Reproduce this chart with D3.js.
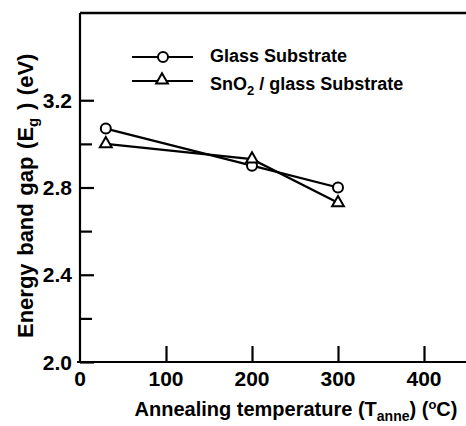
<!DOCTYPE html>
<html>
<head>
<meta charset="utf-8">
<script src="https://cdn.jsdelivr.net/npm/d3@7"></script>
<style>
  body { margin: 0; background: #fff; }
  text { font-family: "Liberation Sans", Arial, sans-serif; font-weight: bold; fill: #000; }
</style>
</head>
<body>
<div id="chart"></div>
<script>
// data
var temps = [30, 200, 300];
var glass = [3.07, 2.90, 2.80];
var sno2 = [3.00, 2.93, 2.73];
var xTicks = [0, 100, 200, 300, 400];
var yMajor = [2.0, 2.4, 2.8, 3.2];
var yMinor = [2.2, 2.6, 3.0];
var seriesNames = ["Glass Substrate", "SnO2 / glass Substrate"];

var width = 466, height = 426;
var plotLeft = 80, plotTop = 13, plotBottom = 362;

var svg = d3.select("#chart").append("svg")
  .attr("width", width)
  .attr("height", height);

var x = d3.scaleLinear().domain([0, 450]).range([plotLeft, plotLeft + 387]);
var y = d3.scaleLinear().domain([2.0, 3.6]).range([plotBottom, plotTop]);

// frame: top border, left and bottom axes
svg.append("line").attr("x1", plotLeft).attr("x2", width).attr("y1", plotTop).attr("y2", plotTop)
  .attr("stroke", "#000").attr("stroke-width", 2.5);

// y axis
var yAxis = svg.append("g")
  .attr("transform", "translate(" + plotLeft + ",0)")
  .call(d3.axisRight(y).tickValues(yMajor).tickSize(14).tickFormat(""));
yAxis.select(".domain").attr("d", "M0," + plotTop + "V" + plotBottom);
svg.append("g")
  .attr("transform", "translate(" + plotLeft + ",0)")
  .call(d3.axisRight(y).tickValues(yMinor).tickSize(12).tickFormat(""))
  .select(".domain").remove();

svg.selectAll(".ylab").data(yMajor).enter().append("text")
  .attr("class", "ylab")
  .attr("x", plotLeft - 8)
  .attr("y", d => y(d))
  .attr("dy", "0.36em")
  .attr("text-anchor", "end")
  .style("font-size", "21px")
  .text(d => d.toFixed(1));

// x axis
var xAxis = svg.append("g")
  .attr("transform", "translate(0," + plotBottom + ")")
  .call(d3.axisTop(x).tickValues(xTicks.slice(1)).tickSize(16).tickFormat(""));
xAxis.select(".domain").attr("d", "M" + (plotLeft - 3) + ",0H" + width);

svg.selectAll(".xlab").data(xTicks).enter().append("text")
  .attr("class", "xlab")
  .attr("x", d => x(d))
  .attr("y", plotBottom + 24)
  .attr("text-anchor", "middle")
  .style("font-size", "21px")
  .text(d => d);

svg.selectAll("g .tick line, g .domain").attr("stroke", "#000").attr("stroke-width", 2.2);

// axis titles
var xt = svg.append("text")
  .attr("x", 296)
  .attr("y", 416)
  .attr("text-anchor", "middle")
  .style("font-size", "20px");
xt.append("tspan").text("Annealing temperature (T");
xt.append("tspan").attr("dy", 5).style("font-size", "14px").text("anne");
xt.append("tspan").attr("dy", -5).text(") (");
xt.append("tspan").attr("dy", -7).style("font-size", "13px").text("o");
xt.append("tspan").attr("dy", 7).text("C)");

var yt = svg.append("text")
  .attr("transform", "translate(33,338) rotate(-90)")
  .attr("text-anchor", "start")
  .style("font-size", "22px")
  .style("word-spacing", "1.5px");
yt.append("tspan").text("Energy band gap (E");
yt.append("tspan").attr("dy", 5).style("font-size", "15px").text("g");
yt.append("tspan").attr("dy", -5).text(" ) (eV)");

// series
var line = d3.line().x(d => x(d[0])).y(d => y(d[1]));
var glassPts = d3.zip(temps, glass);
var sno2Pts = d3.zip(temps, sno2);

svg.append("path").datum(glassPts).attr("d", line)
  .attr("fill", "none").attr("stroke", "#000").attr("stroke-width", 2.2);
svg.append("path").datum(sno2Pts).attr("d", line)
  .attr("fill", "none").attr("stroke", "#000").attr("stroke-width", 2.2);

var tri = d3.symbol().type(d3.symbolTriangle).size(60);

svg.selectAll(".circ").data(glassPts).enter().append("circle")
  .attr("cx", d => x(d[0])).attr("cy", d => y(d[1])).attr("r", 5)
  .attr("fill", "#fff").attr("stroke", "#000").attr("stroke-width", 2);

svg.selectAll(".tri").data(sno2Pts).enter().append("path")
  .attr("d", tri)
  .attr("transform", d => "translate(" + x(d[0]) + "," + y(d[1]) + ")")
  .attr("fill", "#fff").attr("stroke", "#000").attr("stroke-width", 2);

// legend
var leg = svg.append("g");
var rows = [57, 81];
rows.forEach(function(ry, i) {
  leg.append("line").attr("x1", 132).attr("x2", 193).attr("y1", ry).attr("y2", ry)
    .attr("stroke", "#000").attr("stroke-width", 2.2);
  if (i === 0) {
    leg.append("circle").attr("cx", 163).attr("cy", ry).attr("r", 5)
      .attr("fill", "#fff").attr("stroke", "#000").attr("stroke-width", 2);
  } else {
    leg.append("path").attr("d", tri).attr("transform", "translate(162," + (ry - 1) + ")")
      .attr("fill", "#fff").attr("stroke", "#000").attr("stroke-width", 2);
  }
});
leg.append("text").attr("x", 210).attr("y", 62).style("font-size", "18px").text(seriesNames[0]);
var l2 = leg.append("text").attr("x", 210).attr("y", 90).style("font-size", "18px");
l2.append("tspan").text("SnO");
l2.append("tspan").attr("dy", 5).style("font-size", "13px").text("2");
l2.append("tspan").attr("dy", -5).text(seriesNames[1].slice(4));
</script>
</body>
</html>
